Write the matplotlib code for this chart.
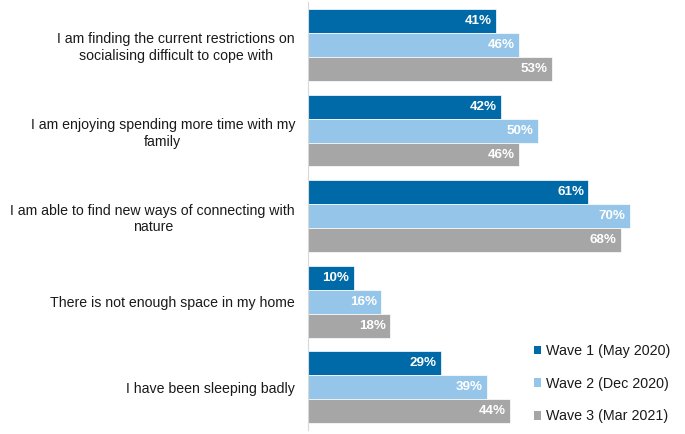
import matplotlib
matplotlib.use("Agg")
from matplotlib import pyplot as plt
from matplotlib.patches import Patch
import numpy as np

plt.rcParams['font.family'] = ['Liberation Sans', 'DejaVu Sans']

statements = [
    "I am finding the current restrictions on\nsocialising difficult to cope with",
    "I am enjoying spending more time with my\nfamily",
    "I am able to find new ways of connecting with\nnature",
    "There is not enough space in my home",
    "I have been sleeping badly",
]
wave_names = ["Wave 1 (May 2020)", "Wave 2 (Dec 2020)", "Wave 3 (Mar 2021)"]
wave1 = [41, 42, 61, 10, 29]
wave2 = [46, 50, 70, 16, 39]
wave3 = [53, 46, 68, 18, 44]
colours = ["#0069A8", "#95C6E9", "#A6A6A6"]

fig = plt.figure(figsize=(6.85, 4.34), dpi=100)
ax = fig.add_axes([0.449, 0.009, 0.551, 0.986])

y = np.arange(len(statements))
bar_h = 0.28
for i, (vals, col) in enumerate(zip([wave1, wave2, wave3], colours)):
    pos = y + (i - 1) * bar_h
    bars = ax.barh(pos, vals, height=bar_h, color=col, edgecolor="white", linewidth=0.5)
    for b, v in zip(bars, vals):
        ax.text(v - 0.9, b.get_y() + b.get_height() / 2, "{}%".format(v),
                ha="right", va="center", color="white", fontweight="bold", fontsize=9.6)

ax.set_xlim(0, 82)
ax.set_ylim(len(statements) - 0.5, -0.5)
ax.set_yticks(y)
ax.set_yticklabels(statements, fontsize=10.2, multialignment="center", linespacing=1.25)
ax.tick_params(axis="y", length=0, pad=9, colors="#1a1a1a")
ax.set_xticks([])
for s in ["top", "right", "bottom"]:
    ax.spines[s].set_visible(False)
ax.spines["left"].set_color("#D9D9D9")

handles = [Patch(facecolor=c, label=n) for c, n in zip(colours, wave_names)]
fig.legend(handles=handles, loc="lower right", bbox_to_anchor=(0.997, -0.005),
           frameon=False, fontsize=10.3, handlelength=0.55, handleheight=0.55,
           handletextpad=0.3, labelspacing=1.3, labelcolor="#1a1a1a")

fig.savefig("out.png", dpi=100)
